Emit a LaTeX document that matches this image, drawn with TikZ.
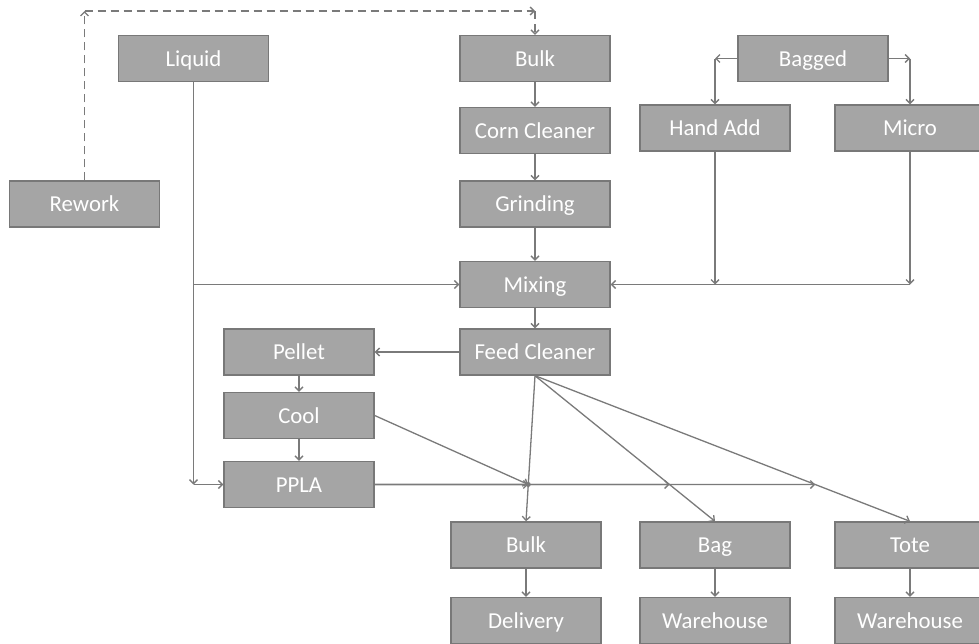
\documentclass[tikz,border=0pt]{standalone}
\usepackage{fontspec}
\setmainfont{Carlito}
\usetikzlibrary{arrows.meta,calc}
\definecolor{boxfill}{HTML}{A5A5A5}
\definecolor{boxline}{HTML}{787878}
\definecolor{connc}{HTML}{7A7A7A}
\begin{document}
\begin{tikzpicture}[x=1pt,y=-1pt,
  box/.style={draw=boxline, line width=1.4pt, fill=boxfill, minimum width=150pt, minimum height=46pt, inner sep=0pt, text height=17.5pt, text depth=2pt, text=white, font=\fontsize{22.8}{26}\selectfont},
  conn/.style={draw=connc, line width=1.3pt, -{Straight Barb[length=4pt,width=8pt]}},
  dashconn/.style={conn, dash pattern=on 8pt off 5pt}]
\useasboundingbox (0,0) rectangle (979,643);
\fill[white] (0,0) rectangle (979,643);
% nodes
\node[box] (liquid) at (193.5,58.5) {Liquid};
\node[box] (rework) at (84.5,204) {Rework};
\node[box] (bulk) at (535,58.5) {Bulk};
\node[box] (corn) at (535,130.5) {Corn Cleaner};
\node[box] (grind) at (535,204) {Grinding};
\node[box] (mixing) at (535,284.5) {Mixing};
\node[box] (fc) at (535,352) {Feed Cleaner};
\node[box] (bagged) at (813,58.5) {Bagged};
\node[box] (handadd) at (715,128) {Hand Add};
\node[box] (micro) at (910,128) {Micro};
\node[box] (pellet) at (299,352) {Pellet};
\node[box] (cool) at (299,415.5) {Cool};
\node[box] (ppla) at (299,484.5) {PPLA};
\node[box] (bulkb) at (526,545) {Bulk};
\node[box] (bag) at (715,545) {Bag};
\node[box] (tote) at (910,545) {Tote};
\node[box] (delivery) at (526,620.5) {Delivery};
\node[box] (wh1) at (715,620.5) {Warehouse};
\node[box] (wh2) at (910,620.5) {Warehouse};
% rework dashed loop
\coordinate (rc1) at (rework.north |- 0,11);
\coordinate (rc2) at (bulk.north |- 0,11);
\draw[dashconn] (rework.north) -- (rc1);
\draw[dashconn] (rc1) -- (rc2);
\draw[dashconn] (rc2) -- (bulk.north);
% main chain
\draw[conn] (bulk) -- (corn);
\draw[conn] (corn) -- (grind);
\draw[conn] (grind) -- (mixing);
\draw[conn] (mixing) -- (fc);
\draw[conn] (fc) -- (pellet);
\draw[conn] (pellet) -- (cool);
\draw[conn] (cool) -- (ppla);
\draw[conn] (bulkb) -- (delivery);
\draw[conn] (bag) -- (wh1);
\draw[conn] (tote) -- (wh2);
% liquid
\coordinate (lq1) at (liquid.south |- mixing.west);
\coordinate (lq2) at (liquid.south |- ppla.west);
\draw[conn] (liquid.south) -- (lq2);
\draw[conn] (lq2) -- (ppla.west);
\draw[conn] (lq1) -- (mixing.west);
% bagged
\coordinate (bg1) at (handadd.north |- bagged.west);
\coordinate (bg2) at (micro.north |- bagged.east);
\draw[conn] (bagged.west) -- (bg1);
\draw[conn] (bg1) -- (handadd.north);
\draw[conn] (bagged.east) -- (bg2);
\draw[conn] (bg2) -- (micro.north);
\coordinate (ha1) at (handadd.south |- mixing.east);
\coordinate (mi1) at (micro.south |- mixing.east);
\draw[conn] (handadd.south) -- (ha1);
\draw[conn] (micro.south) -- (mi1);
\draw[conn] (mi1) -- (mixing.east);
% feed cleaner outputs
\draw[conn] (fc.south) -- (bulkb.north);
\draw[conn] (fc.south) -- (bag.north);
\draw[conn] (fc.south) -- (tote.north);
\coordinate (far) at ($(ppla.east)+(700,0)$);
\coordinate (j1) at (intersection of fc.south--bulkb.north and ppla.east--far);
\coordinate (j2) at (intersection of fc.south--bag.north and ppla.east--far);
\coordinate (j3) at (intersection of fc.south--tote.north and ppla.east--far);
\draw[conn] (ppla.east) -- (j1);
\draw[conn] (ppla.east) -- (j2);
\draw[conn] (ppla.east) -- (j3);
\draw[conn] (cool.east) -- (j1);
\fill[connc] (j1) circle (2.5pt);
\end{tikzpicture}
\end{document}
